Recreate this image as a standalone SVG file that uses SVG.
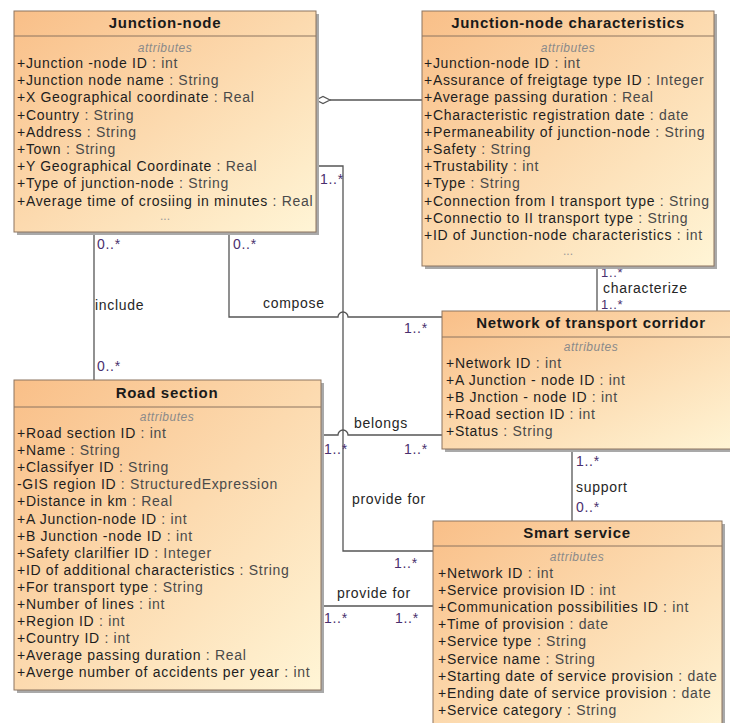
<svg xmlns="http://www.w3.org/2000/svg" width="730" height="723" viewBox="0 0 730 723">
<defs>
<linearGradient id="fill" x1="0" y1="0" x2="1" y2="1">
<stop offset="0" stop-color="#f9bf88"/>
<stop offset="1" stop-color="#fff5d6"/>
</linearGradient>
</defs>
<style>
.box{fill:url(#fill);stroke:#8c7560;stroke-width:1}
.shadow{fill:#a9a9a9}
.sep{stroke:#8c7560;stroke-width:1}
text{font-family:"Liberation Sans",Arial,sans-serif}
.title{font-size:15px;font-weight:bold;fill:#1a1a1a;text-anchor:middle;letter-spacing:0.7px}
.st{font-size:12px;font-style:italic;fill:#8a8a8a;text-anchor:middle;letter-spacing:0.5px}
.attr{font-size:14px;fill:#1e1e1e;letter-spacing:0.7px}
.ty{fill:#4a4a4a}
.dots{font-size:12px;fill:#999;text-anchor:middle}
.conn{fill:none;stroke:#555;stroke-width:1.3}
.lbl{font-size:14px;fill:#262626;letter-spacing:0.7px}
.mult{font-size:14px;fill:#4a2f6e;letter-spacing:0.7px}
.small{font-size:13px}
</style>
<rect width="730" height="723" fill="#ffffff"/>

<g id="connectors">
<path class="conn" d="M330,100 H422"/>
<polygon points="316,100 323,96.5 330,100 323,103.5" fill="#ffffff" stroke="#555" stroke-width="1.2"/>
<path class="conn" d="M316,166 H343 V551 H433"/>
<path class="conn" d="M229,232 V317 H338 A5,5 0 0 1 348,317 H442"/>
<path class="conn" d="M321,435 H338 A5,5 0 0 1 348,435 H442"/>
<path class="conn" d="M94,232 V380"/>
<path class="conn" d="M597,266 V311"/>
<path class="conn" d="M572,449 V521"/>
<path class="conn" d="M321,606 H433"/>
<text class="mult" x="97" y="249">0..*</text>
<text class="lbl" x="95" y="310">include</text>
<text class="mult" x="97" y="371">0..*</text>
<text class="mult" x="233" y="249">0..*</text>
<text class="lbl" x="263" y="308">compose</text>
<text class="mult" x="404" y="333">1..*</text>
<text class="mult" x="320" y="184">1..*</text>
<text class="lbl" x="354" y="428">belongs</text>
<text class="mult" x="324" y="454">1..*</text>
<text class="mult" x="404" y="454">1..*</text>
<text class="lbl" x="352" y="504">provide for</text>
<text class="mult" x="394" y="568">1..*</text>
<text class="lbl" x="337" y="598">provide for</text>
<text class="mult" x="324" y="623">1..*</text>
<text class="mult" x="395" y="623">1..*</text>
<text class="mult" x="576" y="466">1..*</text>
<text class="lbl" x="576" y="492">support</text>
<text class="mult" x="576" y="512">0..*</text>
<text class="mult small" x="601" y="277">1..*</text>
<text class="lbl" x="603" y="293">characterize</text>
<text class="mult small" x="601" y="309">1..*</text>
</g>

<g id="junction-node">
<rect class="shadow" x="17" y="14" width="302" height="221"/>
<rect class="box" x="14" y="11" width="302" height="221"/>
<line class="sep" x1="14" y1="36" x2="316" y2="36"/>
<text class="title" x="165" y="28">Junction-node</text>
<text class="st" x="165" y="52">attributes</text>
<text class="attr" x="17" y="68">+Junction -node ID<tspan class="ty"> : int</tspan></text>
<text class="attr" x="17" y="85.2">+Junction node name<tspan class="ty"> : String</tspan></text>
<text class="attr" x="17" y="102.4">+X Geographical coordinate<tspan class="ty"> : Real</tspan></text>
<text class="attr" x="17" y="119.6">+Country<tspan class="ty"> : String</tspan></text>
<text class="attr" x="17" y="136.8">+Address<tspan class="ty"> : String</tspan></text>
<text class="attr" x="17" y="154">+Town<tspan class="ty"> : String</tspan></text>
<text class="attr" x="17" y="171.2">+Y Geographical Coordinate<tspan class="ty"> : Real</tspan></text>
<text class="attr" x="17" y="188.4">+Type of junction-node<tspan class="ty"> : String</tspan></text>
<text class="attr" x="17" y="205.6">+Average time of crosiing in minutes<tspan class="ty"> : Real</tspan></text>
<text class="dots" x="165" y="220">...</text>
</g>

<g id="junction-node-characteristics">
<rect class="shadow" x="425" y="14" width="292" height="255"/>
<rect class="box" x="422" y="11" width="292" height="255"/>
<line class="sep" x1="422" y1="36" x2="714" y2="36"/>
<text class="title" x="568" y="28">Junction-node characteristics</text>
<text class="st" x="568" y="52">attributes</text>
<text class="attr" x="424" y="68">+Junction-node ID<tspan class="ty"> : int</tspan></text>
<text class="attr" x="424" y="85.2">+Assurance of freigtage type ID<tspan class="ty"> : Integer</tspan></text>
<text class="attr" x="424" y="102.4">+Average passing duration<tspan class="ty"> : Real</tspan></text>
<text class="attr" x="424" y="119.6">+Characteristic registration date<tspan class="ty"> : date</tspan></text>
<text class="attr" x="424" y="136.8">+Permaneability of junction-node<tspan class="ty"> : String</tspan></text>
<text class="attr" x="424" y="154">+Safety<tspan class="ty"> : String</tspan></text>
<text class="attr" x="424" y="171.2">+Trustability<tspan class="ty"> : int</tspan></text>
<text class="attr" x="424" y="188.4">+Type<tspan class="ty"> : String</tspan></text>
<text class="attr" x="424" y="205.6">+Connection from I transport type<tspan class="ty"> : String</tspan></text>
<text class="attr" x="424" y="222.8">+Connectio to II transport type<tspan class="ty"> : String</tspan></text>
<text class="attr" x="424" y="240">+ID of Junction-node characteristics<tspan class="ty"> : int</tspan></text>
<text class="dots" x="568" y="255">...</text>
</g>

<g id="network-of-transport-corridor">
<rect class="shadow" x="445" y="314" width="300" height="138"/>
<rect class="box" x="442" y="311" width="300" height="138"/>
<line class="sep" x1="442" y1="337" x2="742" y2="337"/>
<text class="title" x="591" y="328">Network of transport corridor</text>
<text class="st" x="591" y="351">attributes</text>
<text class="attr" x="446" y="367.5">+Network ID<tspan class="ty"> : int</tspan></text>
<text class="attr" x="446" y="384.7">+A Junction - node ID<tspan class="ty"> : int</tspan></text>
<text class="attr" x="446" y="401.9">+B Jnction - node ID<tspan class="ty"> : int</tspan></text>
<text class="attr" x="446" y="419.1">+Road section ID<tspan class="ty"> : int</tspan></text>
<text class="attr" x="446" y="436.3">+Status<tspan class="ty"> : String</tspan></text>
</g>

<g id="road-section">
<rect class="shadow" x="17" y="383" width="307" height="310"/>
<rect class="box" x="14" y="380" width="307" height="310"/>
<line class="sep" x1="14" y1="407" x2="321" y2="407"/>
<text class="title" x="167" y="398">Road section</text>
<text class="st" x="167" y="421">attributes</text>
<text class="attr" x="17" y="438">+Road section ID<tspan class="ty"> : int</tspan></text>
<text class="attr" x="17" y="455.1">+Name<tspan class="ty"> : String</tspan></text>
<text class="attr" x="17" y="472.2">+Classifyer ID<tspan class="ty"> : String</tspan></text>
<text class="attr" x="17" y="489.3">-GIS region ID<tspan class="ty"> : StructuredExpression</tspan></text>
<text class="attr" x="17" y="506.4">+Distance in km<tspan class="ty"> : Real</tspan></text>
<text class="attr" x="17" y="523.5">+A Junction-node ID<tspan class="ty"> : int</tspan></text>
<text class="attr" x="17" y="540.6">+B Junction -node ID<tspan class="ty"> : int</tspan></text>
<text class="attr" x="17" y="557.7">+Safety clarilfier ID<tspan class="ty"> : Integer</tspan></text>
<text class="attr" x="17" y="574.8">+ID of additional characteristics<tspan class="ty"> : String</tspan></text>
<text class="attr" x="17" y="591.9">+For transport type<tspan class="ty"> : String</tspan></text>
<text class="attr" x="17" y="609">+Number of lines<tspan class="ty"> : int</tspan></text>
<text class="attr" x="17" y="626.1">+Region ID<tspan class="ty"> : int</tspan></text>
<text class="attr" x="17" y="643.2">+Country ID<tspan class="ty"> : int</tspan></text>
<text class="attr" x="17" y="660.3">+Average passing duration<tspan class="ty"> : Real</tspan></text>
<text class="attr" x="17" y="677.4">+Averge number of accidents per year<tspan class="ty"> : int</tspan></text>
</g>

<g id="smart-service">
<rect class="shadow" x="436" y="524" width="289" height="215"/>
<rect class="box" x="433" y="521" width="289" height="215"/>
<line class="sep" x1="433" y1="546" x2="722" y2="546"/>
<text class="title" x="577" y="538">Smart service</text>
<text class="st" x="577" y="561">attributes</text>
<text class="attr" x="438" y="578">+Network ID<tspan class="ty"> : int</tspan></text>
<text class="attr" x="438" y="595.1">+Service provision ID<tspan class="ty"> : int</tspan></text>
<text class="attr" x="438" y="612.2">+Communication possibilities ID<tspan class="ty"> : int</tspan></text>
<text class="attr" x="438" y="629.3">+Time of provision<tspan class="ty"> : date</tspan></text>
<text class="attr" x="438" y="646.4">+Service type<tspan class="ty"> : String</tspan></text>
<text class="attr" x="438" y="663.5">+Service name<tspan class="ty"> : String</tspan></text>
<text class="attr" x="438" y="680.6">+Starting date of service provision<tspan class="ty"> : date</tspan></text>
<text class="attr" x="438" y="697.7">+Ending date of service provision<tspan class="ty"> : date</tspan></text>
<text class="attr" x="438" y="714.8">+Service category<tspan class="ty"> : String</tspan></text>
</g>
</svg>
